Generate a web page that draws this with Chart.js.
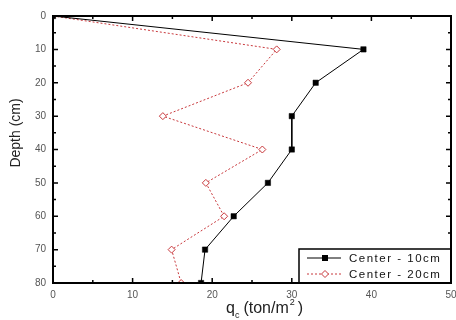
<!DOCTYPE html>
<html><head><meta charset="utf-8">
<script src="https://cdn.jsdelivr.net/npm/chart.js@4/dist/chart.umd.min.js"></script>
<style>html,body{margin:0;padding:0;background:#fff}#wrap{width:456px;height:320px}</style>
</head><body><div id="wrap"><canvas id="c" width="456" height="320"></canvas></div>
<script>
const depths = [0, 10, 20, 30, 40, 50, 60, 70, 80];
const center10 = [0, 39, 33, 30, 30, 27, 22.7, 19.1, 18.6];
const center20 = [0, 28.1, 24.5, 13.8, 26.3, 19.2, 21.5, 14.9, 16.1];
const seriesLabels = ['Center - 10cm', 'Center - 20cm'];
const xTicks = [0, 10, 20, 30, 40, 50];
const yTicks = [0, 10, 20, 30, 40, 50, 60, 70, 80];

const red = '#c8383c';
const pts = (vals) => vals.map((v, i) => ({x: v, y: depths[i]}));
const FONT = '"Liberation Sans", Arial, sans-serif';

const framePlugin = {
  id: 'frame',
  afterDraw(chart) {
    const {ctx, chartArea: a, scales: {x, y}} = chart;
    ctx.save();
    ctx.strokeStyle = '#000';
    ctx.lineWidth = 1.5;
    for (let v = 0; v <= 50; v += 5) {
      const px = x.getPixelForValue(v);
      const len = v % 10 === 0 ? 5 : 3;
      ctx.beginPath();
      ctx.moveTo(px, a.bottom); ctx.lineTo(px, a.bottom - len);
      ctx.moveTo(px, a.top); ctx.lineTo(px, a.top + len);
      ctx.stroke();
    }
    for (let v = 0; v <= 80; v += 5) {
      const py = y.getPixelForValue(v);
      const len = v % 10 === 0 ? 5 : 3;
      ctx.beginPath();
      ctx.moveTo(a.left, py); ctx.lineTo(a.left + len, py);
      ctx.moveTo(a.right, py); ctx.lineTo(a.right - len, py);
      ctx.stroke();
    }
    // legend box
    const bx = 299, by = 249, bw = a.right - 299, bh = a.bottom - 249;
    ctx.fillStyle = '#fff';
    ctx.fillRect(bx, by, bw, bh);
    ctx.lineWidth = 1.5;
    ctx.strokeRect(bx, by, bw, bh);
    const rows = [
      {label: chart.data.datasets[0].label, color: '#000', dash: [], style: 'rect', fill: '#000', y: by + 9},
      {label: chart.data.datasets[1].label, color: red, dash: [2, 2], style: 'rectRot', fill: '#fff', y: by + 25}
    ];
    rows.forEach(r => {
      ctx.strokeStyle = r.color;
      ctx.lineWidth = 1;
      ctx.setLineDash(r.dash);
      ctx.beginPath(); ctx.moveTo(307, r.y); ctx.lineTo(341, r.y); ctx.stroke();
      ctx.setLineDash([]);
      ctx.fillStyle = r.fill;
      if (r.style === 'rect') {
        ctx.fillRect(322, r.y - 3, 6, 6);
      } else {
        ctx.beginPath();
        ctx.moveTo(325, r.y - 3.5); ctx.lineTo(328.5, r.y); ctx.lineTo(325, r.y + 3.5); ctx.lineTo(321.5, r.y); ctx.closePath();
        ctx.fill(); ctx.stroke();
      }
      ctx.fillStyle = '#111';
      ctx.font = '11.5px ' + FONT;
      ctx.letterSpacing = '1.5px';
      ctx.textBaseline = 'middle';
      ctx.textAlign = 'left';
      ctx.fillText(r.label, 349, r.y + 0.5);
      ctx.letterSpacing = '0px';
    });
    // frame
    ctx.strokeStyle = '#000';
    ctx.lineWidth = 2;
    ctx.strokeRect(a.left, a.top, a.right - a.left, a.bottom - a.top);
    // axis titles
    ctx.fillStyle = '#222';
    ctx.textBaseline = 'alphabetic';
    ctx.textAlign = 'left';
    const big = '16px ' + FONT, small = '9px ' + FONT;
    let tx = 226, ty = 313;
    ctx.font = big; ctx.fillText('q', tx, ty); tx += ctx.measureText('q').width;
    ctx.font = small; ctx.fillText('c', tx, ty + 5); tx += ctx.measureText('c').width + 4;
    ctx.font = big; ctx.fillText('(ton/m', tx, ty); tx += ctx.measureText('(ton/m').width;
    ctx.font = small; ctx.fillText('2', tx + 1, ty - 8); tx += ctx.measureText('2').width + 4;
    ctx.font = big; ctx.fillText(')', tx, ty);
    ctx.save();
    ctx.translate(16, 133);
    ctx.rotate(-Math.PI / 2);
    ctx.textAlign = 'center';
    ctx.textBaseline = 'middle';
    ctx.font = '14px ' + FONT;
    ctx.fillText('Depth (cm)', 0, 0);
    ctx.restore();
    ctx.restore();
  }
};

new Chart(document.getElementById('c'), {
  type: 'scatter',
  data: {
    datasets: [
      {label: seriesLabels[0], data: pts(center10), showLine: true, borderColor: '#000', borderWidth: 1,
       pointStyle: 'rect', pointRadius: 3.8, pointBackgroundColor: '#000', pointBorderColor: '#000', pointBorderWidth: 0.5},
      {label: seriesLabels[1], data: pts(center20), showLine: true, borderColor: red, borderWidth: 1, borderDash: [2, 2],
       pointStyle: 'rectRot', pointRadius: 3.5, pointBackgroundColor: '#fff', pointBorderColor: red, pointBorderWidth: 1}
    ]
  },
  options: {
    responsive: false,
    animation: false,
    events: [],
    layout: {padding: {left: 0, top: 16, right: 5, bottom: 0}},
    plugins: {legend: {display: false}, tooltip: {enabled: false}},
    scales: {
      x: {
        type: 'linear', min: 0, max: 50,
        afterBuildTicks: (s) => { s.ticks = xTicks.map(v => ({value: v})); },
        afterFit: (s) => { s.height = 37; s.paddingLeft = 0; s.paddingRight = 0; },
        grid: {display: false, drawTicks: false},
        border: {display: false},
        ticks: {padding: 6, color: '#555', font: {size: 10, family: FONT}, maxRotation: 0}
      },
      y: {
        type: 'linear', min: 0, max: 80, reverse: true,
        afterBuildTicks: (s) => { s.ticks = yTicks.map(v => ({value: v})); },
        afterFit: (s) => { s.width = 53; s.paddingTop = 0; s.paddingBottom = 0; },
        grid: {display: false, drawTicks: false},
        border: {display: false},
        ticks: {padding: 7, color: '#555', font: {size: 10, family: FONT}}
      }
    }
  },
  plugins: [framePlugin]
});
</script>
</body></html>
